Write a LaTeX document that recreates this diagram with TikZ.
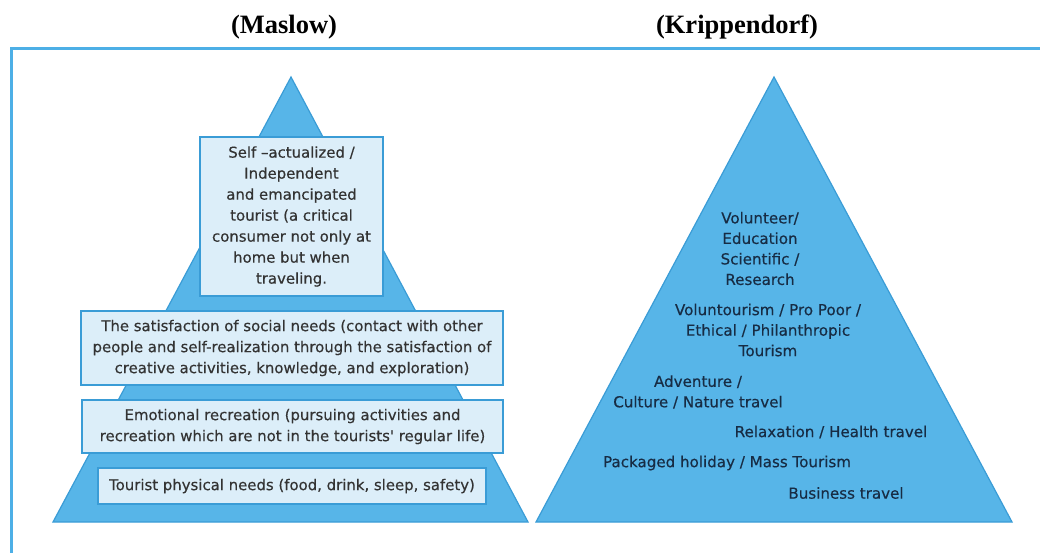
\documentclass[tikz,border=0pt]{standalone}
\usepackage{fontspec}
\setmainfont{Liberation Serif}
\newfontfamily\verdfont[FakeBold=0.4]{DejaVu Sans}
\usepackage{xcolor}
\usetikzlibrary{positioning}

\definecolor{pyrblue}{HTML}{57B5E8}
\definecolor{pyredge}{HTML}{3A9CD6}
\definecolor{boxfill}{HTML}{DCEEF9}
\definecolor{framecol}{HTML}{4DAFE6}
\definecolor{lefttext}{HTML}{333333}
\definecolor{righttext}{HTML}{172C44}

\tikzset{
  pyramid/.style={fill=pyrblue, draw=pyredge, line width=1.2pt, line join=miter},
  levelbox/.style={draw=pyredge, fill=boxfill, line width=2pt, inner sep=0pt, align=center,
    text=lefttext, font=\verdfont\fontsize{14.9}{21}\selectfont},
  tourtext/.style={align=center, text=righttext, inner sep=0pt,
    font=\verdfont\fontsize{15.1}{20.5}\selectfont},
  heading/.style={font=\bfseries\fontsize{26.5}{30}\selectfont}
}

\begin{document}
\begin{tikzpicture}[x=1pt, y=-1pt]
    \useasboundingbox (0,0) rectangle (1040,552);

    % Frame (only top and left edges inside the picture)
    \draw[framecol, line width=3pt] (11,560) -- (11,48) -- (1045,48);

    % Headings
    \node[heading] (maslow) at (284, 27) {(Maslow)};
    \node[heading] (kripp) at (737, 27) {(Krippendorf)};

    % Pyramids
    \draw[pyramid] (53,522) -- (291,77) -- (528,522) -- cycle;
    \draw[pyramid] (536,522) -- (774,77) -- (1012,522) -- cycle;

    % Maslow levels
    \node[levelbox, minimum width=183, minimum height=159] (selfact) at (291.5, 216.5)
        {Self \textendash actualized /\\ Independent\\ and emancipated\\ tourist (a critical\\ consumer not only at\\ home but when\\ traveling.};
    \node[levelbox, minimum width=422, minimum height=74] (social) at (292, 348)
        {The satisfaction of social needs (contact with other\\ people and self-realization through the satisfaction of\\ creative activities, knowledge, and exploration)};
    \node[levelbox, minimum width=421, minimum height=53] (emotion) at (292.5, 426.5)
        {Emotional recreation (pursuing activities and\\ recreation which are not in the tourists' regular life)};
    \node[levelbox, minimum width=388, minimum height=36] (physical) at (292, 486)
        {Tourist physical needs (food, drink, sleep, safety)};

    % Krippendorf tourism types
    \node[tourtext] (volunteer) at (760, 248.5) {Volunteer/\\ Education\\ Scientific /\\ Research};
    \node[tourtext] (voluntour) at (768, 330) {Voluntourism / Pro Poor /\\ Ethical / Philanthropic\\ Tourism};
    \node[tourtext] (adventure) at (698, 392) {Adventure /\\ Culture / Nature travel};
    \node[tourtext] (relax) at (831, 432) {Relaxation / Health travel};
    \node[tourtext] (packaged) at (727, 463) {Packaged holiday / Mass Tourism};
    \node[tourtext] (business) at (846, 493) {Business travel};
\end{tikzpicture}
\end{document}
